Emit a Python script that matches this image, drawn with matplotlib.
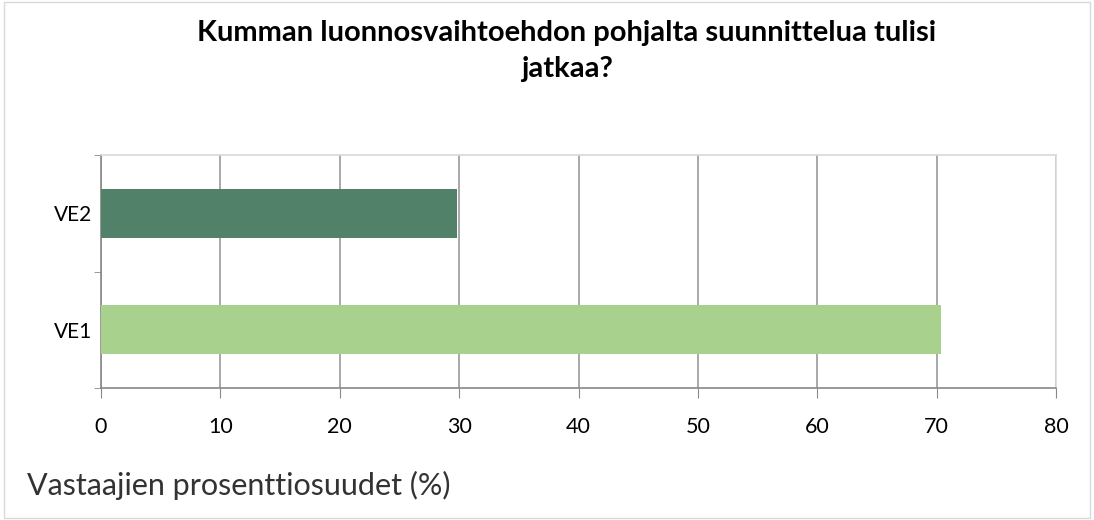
import matplotlib.pyplot as plt
from matplotlib.patches import Rectangle

categories = ["VE1", "VE2"]
values = [70.4, 29.8]
colors = ["#A9D18E", "#52816A"]
xticks = [0, 10, 20, 30, 40, 50, 60, 70, 80]
title = "Kumman luonnosvaihtoehdon pohjalta suunnittelua tulisi\njatkaa?"
xlabel = "Vastaajien prosenttiosuudet (%)"

plt.rcParams['font.family'] = ['Lato', 'DejaVu Sans']

fig = plt.figure(figsize=(10.94, 5.2), dpi=100)
ax = fig.add_axes([101/1094, 1-388/520, (1056-101)/1094, (388-155)/520])

ax.barh(range(len(categories)), values, height=0.42, color=colors, zorder=3)
ax.set_xlim(0, 80)
ax.set_ylim(-0.5, 1.5)
ax.set_xticks(xticks)
ax.set_xticklabels([str(t) for t in xticks], fontsize=15.5)
ax.set_yticks([0, 1])
ax.set_yticklabels(categories, fontsize=15)
ax.set_yticks([-0.5, 0.5, 1.5], minor=True)
ax.tick_params(axis='y', which='major', length=0, pad=6)
ax.tick_params(axis='y', which='minor', length=5, color='#888888', direction='out')
ax.tick_params(axis='x', length=7, color='#888888', direction='out', pad=14)
ax.grid(axis='x', color='#999999', linewidth=1.2, zorder=0)
for s in ['left', 'bottom']:
    ax.spines[s].set_color('#888888')
    ax.spines[s].set_linewidth(1.2)
for s in ['top', 'right']:
    ax.spines[s].set_color('#D9D9D9')
    ax.spines[s].set_linewidth(1.2)

fig.text(567/1094, 1-51/520, title, ha='center', va='center', fontsize=21,
         fontweight='bold', linespacing=1.45)
fig.text(27/1094, 1-485/520, xlabel, ha='left', va='center', fontsize=22, color='#333333')

fig.patches.append(Rectangle((0.004, 0.004), 0.992, 0.992, transform=fig.transFigure,
                             fill=False, edgecolor='#D9D9D9', linewidth=1))

fig.savefig("out.png", dpi=100)
